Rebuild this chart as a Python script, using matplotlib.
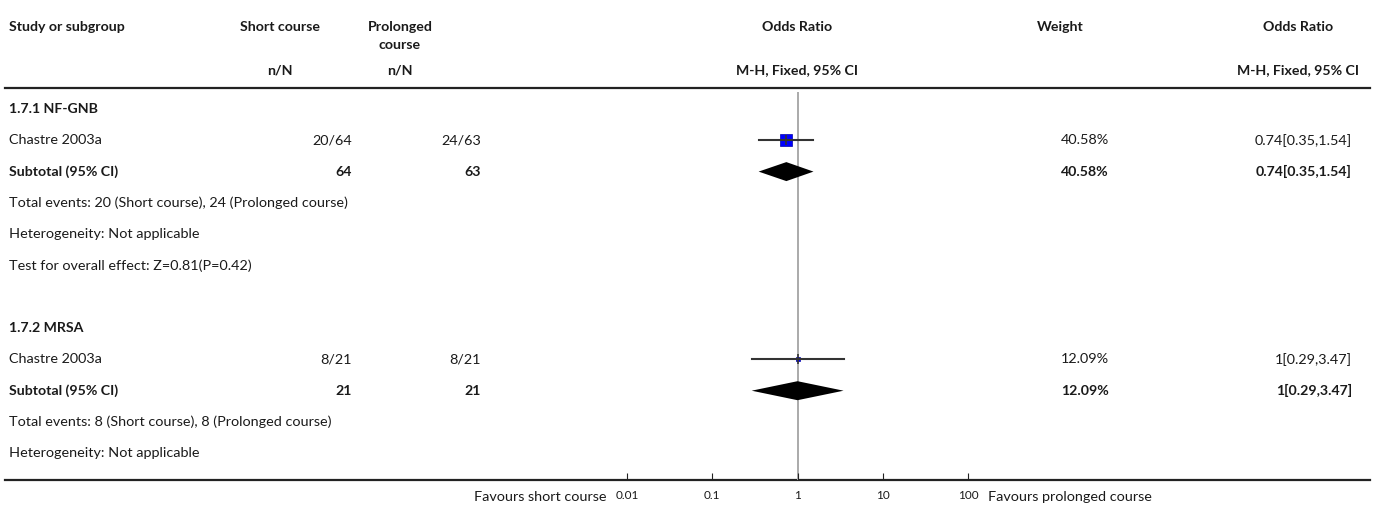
import numpy as np
import matplotlib
matplotlib.use("Agg")
import matplotlib.pyplot as plt

plt.rcParams['font.family'] = ['Lato', 'DejaVu Sans']

# table rows (label, short n/N, prolonged n/N, weight, OR text, bold)
row_labels = ["1.7.1 NF-GNB", "Chastre 2003a", "Subtotal (95% CI)",
              "Total events: 20 (Short course), 24 (Prolonged course)",
              "Heterogeneity: Not applicable",
              "Test for overall effect: Z=0.81(P=0.42)", "",
              "1.7.2 MRSA", "Chastre 2003a", "Subtotal (95% CI)",
              "Total events: 8 (Short course), 8 (Prolonged course)",
              "Heterogeneity: Not applicable"]
row_bold = [True, False, True, False, False, False, False,
            True, False, True, False, False]
short_nN = ["", "20/64", "64", "", "", "", "", "", "8/21", "21", "", ""]
prol_nN = ["", "24/63", "63", "", "", "", "", "", "8/21", "21", "", ""]
weight_txt = ["", "40.58%", "40.58%", "", "", "", "", "", "12.09%", "12.09%", "", ""]
or_txt = ["", "0.74[0.35,1.54]", "0.74[0.35,1.54]", "", "", "", "", "",
          "1[0.29,3.47]", "1[0.29,3.47]", "", ""]

# study estimates
study_rows = [1, 8]
study_or = [0.74, 1.0]
study_lo = [0.35, 0.29]
study_hi = [1.54, 3.47]
study_w = [40.58, 12.09]
# subtotal diamonds
sub_rows = [2, 9]
sub_or = [0.74, 1.0]
sub_lo = [0.35, 0.29]
sub_hi = [1.54, 3.47]

ticks = [0.01, 0.1, 1, 10, 100]
tick_labels = ["0.01", "0.1", "1", "10", "100"]

W, H = 1375, 509
fig = plt.figure(figsize=(W / 100, H / 100), dpi=100)
ax = fig.add_axes([0, 0, 1, 1])
ax.set_xlim(0, W)
ax.set_ylim(H, 0)
ax.axis("off")

y0, dy = 109, 31.3
def ry(i):
    return y0 + i * dy

fs = 10.4
fsb = 10.2
col = "#1a1a1a"
xl = 9
# header
ax.text(xl, 27, "Study or subgroup", fontsize=fsb, weight="bold", va="center", color=col)
ax.text(280, 27, "Short course", fontsize=fsb, weight="bold", va="center", ha="center", color=col)
ax.text(400, 27, "Prolonged", fontsize=fsb, weight="bold", va="center", ha="center", color=col)
ax.text(400, 45, "course", fontsize=fsb, weight="bold", va="center", ha="center", color=col)
ax.text(280, 70, "n/N", fontsize=fsb, weight="bold", va="center", ha="center", color=col)
ax.text(400, 70, "n/N", fontsize=fsb, weight="bold", va="center", ha="center", color=col)
ax.text(797, 27, "Odds Ratio", fontsize=fsb, weight="bold", va="center", ha="center", color=col)
ax.text(797, 70, "M-H, Fixed, 95% CI", fontsize=fsb, weight="bold", va="center", ha="center", color=col)
ax.text(1060, 27, "Weight", fontsize=fsb, weight="bold", va="center", ha="center", color=col)
ax.text(1298, 27, "Odds Ratio", fontsize=fsb, weight="bold", va="center", ha="center", color=col)
ax.text(1298, 70, "M-H, Fixed, 95% CI", fontsize=fsb, weight="bold", va="center", ha="center", color=col)
ax.plot([5, 1370], [88, 88], color="#222222", lw=1.6)
ax.plot([5, 1370], [480, 480], color="#222222", lw=1.6)

for i, lab in enumerate(row_labels):
    w = "bold" if row_bold[i] else "normal"
    f = fsb if row_bold[i] else fs
    y = ry(i)
    ax.text(xl, y, lab, fontsize=f, weight=w, va="center", color=col)
    ax.text(352, y, short_nN[i], fontsize=f, weight=w, va="center", ha="right", color=col)
    ax.text(481, y, prol_nN[i], fontsize=f, weight=w, va="center", ha="right", color=col)
    ax.text(1109, y, weight_txt[i], fontsize=f, weight=w, va="center", ha="right", color=col)
    ax.text(1352, y, or_txt[i], fontsize=f, weight=w, va="center", ha="right", color=col)

ax.text(607, 497, "Favours short course", fontsize=fs, va="center", ha="right", color=col)
ax.text(988, 497, "Favours prolonged course", fontsize=fs, va="center", ha="left", color=col)

# forest panel
top, bot = 92, 480
fax = fig.add_axes([627 / W, (H - bot) / H, (968 - 627) / W, (bot - top) / H])
fax.set_xscale("log")
fax.set_xlim(0.01, 100)
fax.set_ylim(bot, top)
fax.patch.set_alpha(0)
for s in fax.spines.values():
    s.set_visible(False)
fax.set_yticks([])
fax.set_xticks(ticks)
fax.set_xticklabels(tick_labels)
fax.minorticks_off()
fax.tick_params(axis="x", direction="in", length=5, width=0.8, color="#222222",
                labelsize=8.5, pad=7, labelcolor=col)

fax.axvline(1, color="#aaaaaa", lw=1.4, zorder=1)

for r, o, lo, hi, w in zip(study_rows, study_or, study_lo, study_hi, study_w):
    y = ry(r)
    size = w * 0.32 * 0.72
    fax.plot([o], [y], marker="s", ms=size, color="#0000ff", mec="#0000aa", mew=0.5, zorder=2)
    fax.plot([lo, hi], [y, y], color="#333333", lw=1.5, zorder=3)
    fax.plot([o], [y], marker="|", ms=7, color="#333333", mew=1.2, zorder=3)

for r, o, lo, hi in zip(sub_rows, sub_or, sub_lo, sub_hi):
    y = ry(r)
    h = 9.5
    fax.fill([lo, o, hi, o], [y, y - h, y, y + h], color="black", zorder=3, lw=0)

fig.savefig("out.png", dpi=100)
